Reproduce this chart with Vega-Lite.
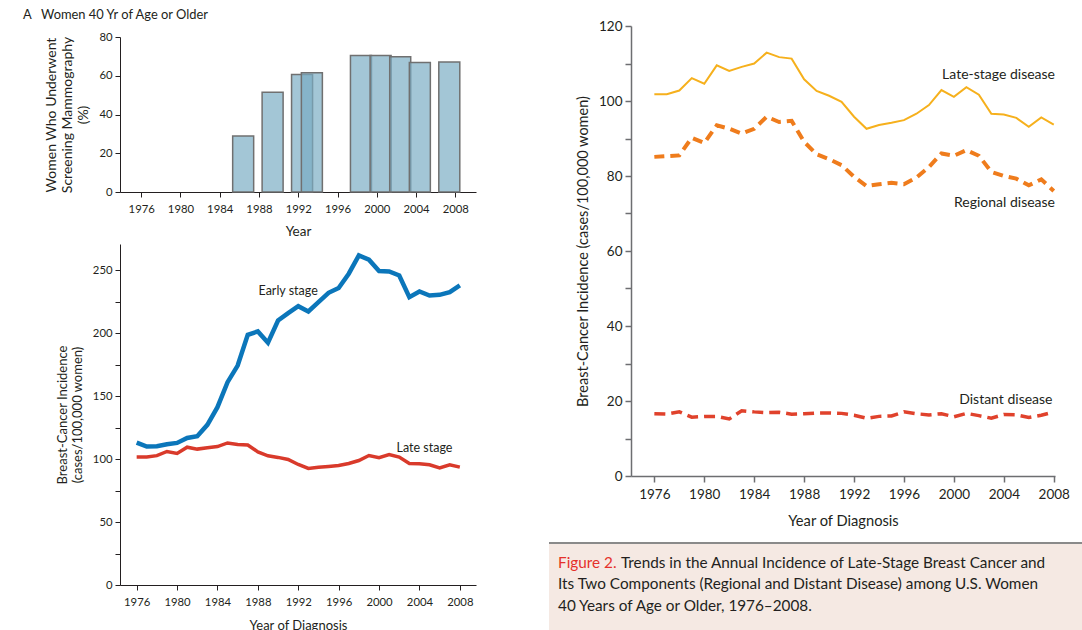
{
  "$schema": "https://vega.github.io/schema/vega-lite/v6.json",
  "padding": {"left": 23, "top": 9, "right": 0, "bottom": 0},
  "background": "white",
  "config": {
    "font": "Lato",
    "view": {"stroke": null},
    "axis": {"labelFont": "Lato", "titleFont": "Lato", "labelFontSize": 11.3, "titleFontSize": 13, "titleFontWeight": "normal", "labelColor": "#231f20", "titleColor": "#231f20", "domainColor": "#231f20", "tickColor": "#231f20", "grid": false, "tickSize": 5, "labelPadding": 3},
    "title": {"font": "Lato", "fontWeight": "normal", "color": "#231f20"},
    "text": {"font": "Lato", "color": "#231f20"}
  },
  "datasets": {
    "screening": [
      {"year": 1987, "percent": 28.9},
      {"year": 1990, "percent": 51.5},
      {"year": 1993, "percent": 60.7},
      {"year": 1994, "percent": 61.5},
      {"year": 1999, "percent": 70.4},
      {"year": 2001, "percent": 70.4},
      {"year": 2003, "percent": 69.8},
      {"year": 2005, "percent": 66.8},
      {"year": 2008, "percent": 67.1}
    ],
    "incidence": [
      {"year": 1976, "early": 113.2, "late": 101.8, "regional": 85.1, "distant": 16.6},
      {"year": 1977, "early": 110.0, "late": 101.8, "regional": 85.3, "distant": 16.5},
      {"year": 1978, "early": 110.3, "late": 102.8, "regional": 85.5, "distant": 17.1},
      {"year": 1979, "early": 111.9, "late": 106.1, "regional": 90.2, "distant": 15.7},
      {"year": 1980, "early": 112.9, "late": 104.6, "regional": 88.8, "distant": 15.9},
      {"year": 1981, "early": 116.9, "late": 109.5, "regional": 93.5, "distant": 15.9},
      {"year": 1982, "early": 118.2, "late": 108.0, "regional": 92.6, "distant": 15.2},
      {"year": 1983, "early": 127.3, "late": 109.1, "regional": 91.3, "distant": 17.4},
      {"year": 1984, "early": 141.3, "late": 110.0, "regional": 92.6, "distant": 17.1},
      {"year": 1985, "early": 161.2, "late": 112.9, "regional": 95.8, "distant": 16.9},
      {"year": 1986, "early": 174.4, "late": 111.7, "regional": 94.4, "distant": 17.0},
      {"year": 1987, "early": 198.8, "late": 111.3, "regional": 94.7, "distant": 16.5},
      {"year": 1988, "early": 201.5, "late": 105.8, "regional": 89.1, "distant": 16.6},
      {"year": 1989, "early": 192.5, "late": 102.7, "regional": 85.8, "distant": 16.8},
      {"year": 1990, "early": 210.2, "late": 101.4, "regional": 84.5, "distant": 16.8},
      {"year": 1991, "early": 216.1, "late": 99.8, "regional": 82.9, "distant": 16.7},
      {"year": 1992, "early": 221.6, "late": 95.8, "regional": 79.8, "distant": 16.2},
      {"year": 1993, "early": 217.4, "late": 92.6, "regional": 77.3, "distant": 15.4},
      {"year": 1994, "early": 224.8, "late": 93.6, "regional": 77.8, "distant": 15.9},
      {"year": 1995, "early": 232.2, "late": 94.2, "regional": 78.2, "distant": 16.0},
      {"year": 1996, "early": 236.0, "late": 94.9, "regional": 77.8, "distant": 17.1},
      {"year": 1997, "early": 247.4, "late": 96.6, "regional": 79.6, "distant": 16.6},
      {"year": 1998, "early": 261.9, "late": 98.9, "regional": 82.4, "distant": 16.3},
      {"year": 1999, "early": 258.5, "late": 102.9, "regional": 86.0, "distant": 16.6},
      {"year": 2000, "early": 249.5, "late": 101.1, "regional": 85.4, "distant": 15.8},
      {"year": 2001, "early": 249.2, "late": 103.7, "regional": 86.9, "distant": 16.7},
      {"year": 2002, "early": 246.0, "late": 101.7, "regional": 85.4, "distant": 16.1},
      {"year": 2003, "early": 228.8, "late": 96.6, "regional": 81.1, "distant": 15.4},
      {"year": 2004, "early": 233.3, "late": 96.4, "regional": 80.0, "distant": 16.4},
      {"year": 2005, "early": 230.1, "late": 95.5, "regional": 79.3, "distant": 16.3},
      {"year": 2006, "early": 230.6, "late": 93.1, "regional": 77.5, "distant": 15.6},
      {"year": 2007, "early": 232.8, "late": 95.6, "regional": 79.1, "distant": 16.2},
      {"year": 2008, "early": 238.1, "late": 93.7, "regional": 76.0, "distant": 17.1}
    ],
    "labelsLeft": [
      {"label": "Early stage", "year": 1991, "value": 234},
      {"label": "Late stage", "year": 2004.5, "value": 108.6}
    ],
    "labelsRight": [
      {"label": "Late-stage disease", "year": 2008.1, "value": 106.9},
      {"label": "Regional disease", "year": 2008.1, "value": 72.7},
      {"label": "Distant disease", "year": 2007.9, "value": 20.4}
    ],
    "caption": [
      {"line": 1, "kind": "figure", "seg": "lead", "text": "Figure 2."},
      {"line": 1, "kind": "body", "seg": "follow", "text": "Trends in the Annual Incidence of Late-Stage Breast Cancer and"},
      {"line": 2, "kind": "body", "seg": "lead", "text": "Its Two Components (Regional and Distant Disease) among U.S. Women"},
      {"line": 3, "kind": "body", "seg": "lead", "text": "40 Years of Age or Older, 1976–2008."}
    ]
  },
  "hconcat": [
    {
      "vconcat": [
        {
          "width": 356,
          "height": 1,
          "title": {"text": "A\u00a0\u00a0\u00a0Women 40 Yr of Age or Older", "anchor": "start", "frame": "group", "dx": -97, "fontSize": 12.9, "offset": 4},
          "data": {"values": []},
          "mark": "point"
        },
        {
          "vconcat": [
            {
              "width": 356,
              "height": 155,
              "data": {"name": "screening"},
              "mark": {"type": "bar", "width": 21, "xOffset": -6, "fill": "#79adc3", "fillOpacity": 0.69, "stroke": "#707070", "strokeWidth": 1.5},
              "encoding": {
                "x": {"field": "year", "type": "quantitative", "scale": {"domain": [1974.35, 2009.6], "nice": false, "zero": false},
                      "axis": {"values": [1976, 1980, 1984, 1988, 1992, 1996, 2000, 2004, 2008], "format": "d", "title": "Year", "titleFontSize": 13.5, "labelPadding": 6, "titlePadding": 10}},
                "y": {"field": "percent", "type": "quantitative", "scale": {"domain": [0, 80], "nice": false},
                      "axis": {"values": [0, 20, 40, 60, 80], "title": ["Women Who Underwent", "Screening Mammography", "(%)"], "titleFontSize": 14, "titleLineHeight": 16, "titlePadding": 8}}
              }
            },
            {
              "width": 356,
              "height": 341,
              "data": {"name": "incidence"},
              "encoding": {
                "x": {"field": "year", "type": "quantitative", "scale": {"domain": [1974.35, 2009.6], "nice": false, "zero": false},
                      "axis": {"values": [1976, 1980, 1984, 1988, 1992, 1996, 2000, 2004, 2008], "format": "d", "title": "Year of Diagnosis", "titleFontSize": 13, "labelPadding": 6, "titlePadding": 12}},
                "y": {"field": "value", "type": "quantitative", "scale": {"domain": [0, 271], "nice": false},
                      "axis": {"values": [0, 25, 50, 75, 100, 125, 150, 175, 200, 225, 250], "labelExpr": "datum.value % 50 === 0 ? datum.label : ''", "title": ["Breast-Cancer Incidence", "(cases/100,000 women)"], "titleFontSize": 13, "titleLineHeight": 15, "titlePadding": 8}}
              },
              "layer": [
                {"transform": [{"fold": ["late"], "as": ["series", "value"]}], "mark": {"type": "line", "color": "#d93a2b", "strokeWidth": 3.5}},
                {"transform": [{"fold": ["early"], "as": ["series", "value"]}], "mark": {"type": "line", "color": "#0b76ba", "strokeWidth": 4.5}},
                {"data": {"name": "labelsLeft"}, "mark": {"type": "text", "fontSize": 12.5}, "encoding": {"text": {"field": "label"}}}
              ]
            }
          ],
          "spacing": 6
        }
      ],
      "spacing": 4
    },
    {
      "vconcat": [
        {
          "width": 424,
          "height": 450,
          "data": {"name": "incidence"},
          "encoding": {
            "x": {"field": "year", "type": "quantitative", "scale": {"domain": [1974.13, 2008.1], "nice": false, "zero": false},
                  "axis": {"values": [1976, 1980, 1984, 1988, 1992, 1996, 2000, 2004, 2008], "format": "d", "title": "Year of Diagnosis", "titleFontSize": 14.7, "titlePadding": 13, "labelFontSize": 13.5, "labelPadding": 5, "tickSize": 6, "domainColor": "#6d6e71", "tickColor": "#6d6e71", "domainWidth": 1.5, "tickWidth": 1.5}},
            "y": {"field": "value", "type": "quantitative", "scale": {"domain": [0, 120], "nice": false},
                  "axis": {"values": [0, 10, 20, 30, 40, 50, 60, 70, 80, 90, 100, 110, 120], "labelExpr": "datum.value % 20 === 0 ? datum.label : ''", "title": "Breast-Cancer Incidence (cases/100,000 women)", "titleFontSize": 14.5, "titlePadding": 8, "labelFontSize": 13.5, "labelPadding": 3, "tickSize": 6, "domainColor": "#6d6e71", "tickColor": "#6d6e71", "domainWidth": 1.5, "tickWidth": 1.5}}
          },
          "layer": [
            {"transform": [{"fold": ["late"], "as": ["series", "value"]}], "mark": {"type": "line", "color": "#f6b01c", "strokeWidth": 2}},
            {"transform": [{"fold": ["regional"], "as": ["series", "value"]}], "mark": {"type": "line", "color": "#ef7c1c", "strokeWidth": 4, "strokeDash": [10, 6]}},
            {"transform": [{"fold": ["distant"], "as": ["series", "value"]}], "mark": {"type": "line", "color": "#e0422c", "strokeWidth": 3.5, "strokeDash": [11, 6]}},
            {"data": {"name": "labelsRight"}, "mark": {"type": "text", "fontSize": 14, "align": "right"}, "encoding": {"text": {"field": "label"}}}
          ]
        },
        {
          "width": 452,
          "height": 89,
          "layer": [
            {
              "data": {"values": [{"box": "caption"}]},
              "mark": {"type": "rect", "fill": "#f5e9e3", "stroke": "#8a8a8a", "strokeWidth": 2, "strokeDash": [534, 89, 534, 89]},
              "encoding": {
                "x": {"datum": -0.1814, "type": "quantitative", "scale": {"domain": [0, 1], "nice": false, "zero": false}, "axis": null},
                "x2": {"datum": 1}
              }
            },
            {
              "data": {"name": "caption"},
              "mark": {"type": "text", "align": "left", "baseline": "middle", "fontSize": 15.3},
              "encoding": {
                "x": {"datum": -0.1814, "type": "quantitative"},
                "y": {"field": "line", "type": "quantitative", "scale": {"domain": [0.07, 4.21], "reverse": true, "nice": false, "zero": false}, "axis": null},
                "text": {"field": "text"},
                "xOffset": {"field": "seg", "type": "nominal", "scale": {"type": "point", "domain": ["lead", "follow"], "range": [9, 72], "padding": 0}, "legend": null},
                "color": {"field": "kind", "type": "nominal", "scale": {"domain": ["figure", "body"], "range": ["#e5312b", "#231f20"]}, "legend": null}
              }
            }
          ]
        }
      ],
      "spacing": 13
    }
  ],
  "spacing": 72
}
